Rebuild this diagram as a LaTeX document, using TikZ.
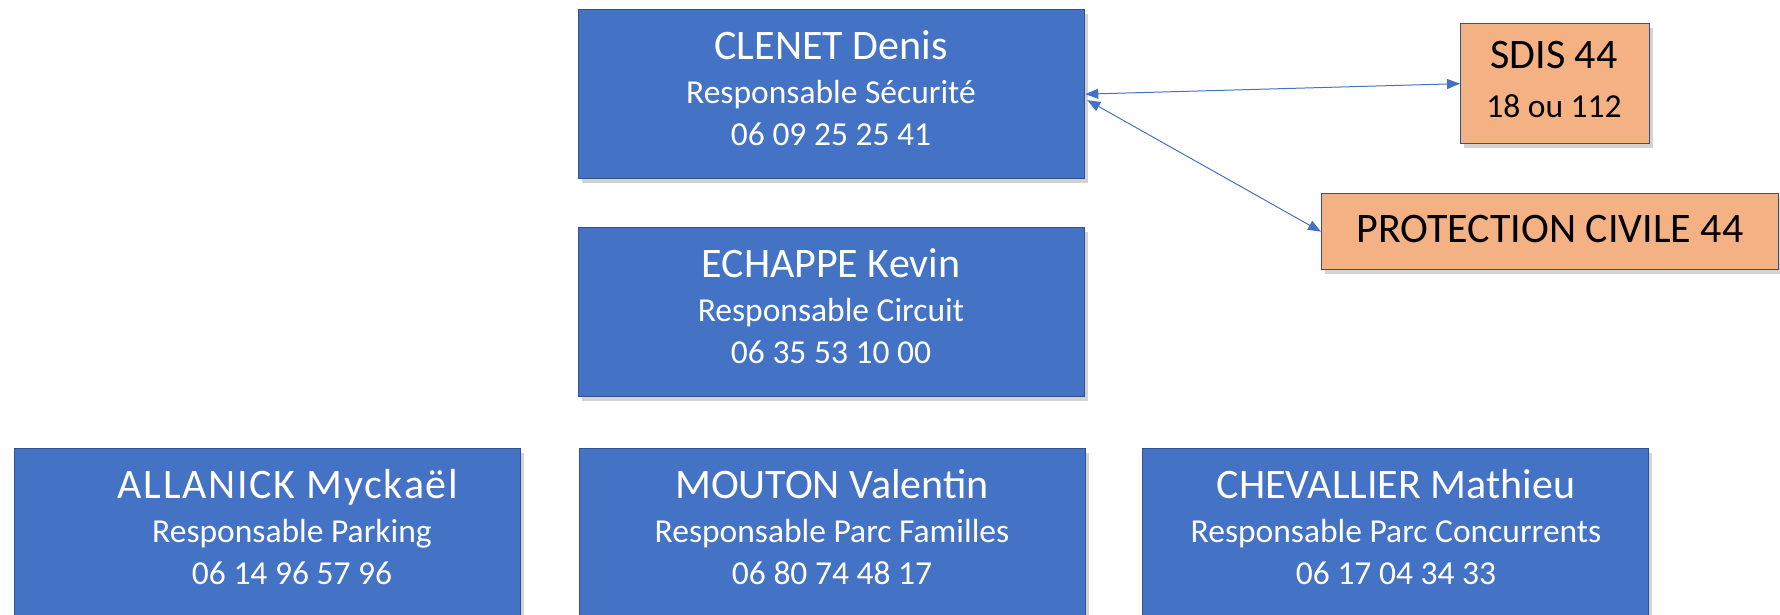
\documentclass[tikz,border=0pt]{standalone}
\usepackage{fontspec}
\setmainfont{Carlito}
\usetikzlibrary{arrows.meta,shadows,calc}
\definecolor{boxblue}{HTML}{4472C4}
\definecolor{edgeblue}{HTML}{2F528F}
\definecolor{boxorange}{HTML}{F4B183}
\tikzset{
  person/.style={draw=edgeblue, line width=1.3pt, fill=boxblue, minimum width=506pt, minimum height=169pt, inner sep=0pt, anchor=north west,
    drop shadow={opacity=0.35, shadow xshift=3pt, shadow yshift=-4pt}},
  extbox/.style={draw=edgeblue, line width=1.3pt, fill=boxorange, inner sep=0pt, anchor=north west,
    drop shadow={opacity=0.35, shadow xshift=3pt, shadow yshift=-4pt}},
  titletxt/.style={text=white, font=\fontsize{42}{48}\selectfont, anchor=base, inner sep=0pt},
  subtxt/.style={text=white, font=\fontsize{33.5}{40}\selectfont, anchor=base, inner sep=0pt},
  exttitle/.style={text=black, font=\fontsize{42}{48}\selectfont, anchor=base, inner sep=0pt},
  extsub/.style={text=black, font=\fontsize{33.5}{40}\selectfont, anchor=base, inner sep=0pt},
  link/.style={draw=boxblue, line width=1pt, {Triangle[length=13pt,width=10pt]}-{Triangle[length=13pt,width=10pt]}}
}
\begin{document}
\begin{tikzpicture}[x=1pt,y=-1pt]
\useasboundingbox (0,0) rectangle (1780,614);
% boxes
\node[person] (clenet) at (578,9) {};
\node[person] (echappe) at (578,227) {};
\node[person] (allanick) at (14,448) {};
\node[person] (mouton) at (579,448) {};
\node[person] (chevallier) at (1142,448) {};
\node[extbox, minimum width=189pt, minimum height=120pt] (sdis) at (1460,23) {};
\node[extbox, minimum width=457pt, minimum height=76pt] (protect) at (1321,193) {};
% texts
\node[titletxt] (t1) at (831,59) {CLENET Denis};
\node[subtxt] (s1) at (831,103) {Responsable Sécurité};
\node[subtxt] (p1) at (831,145) {06 09 25 25 41};
\node[titletxt] (t2) at (831,277) {ECHAPPE Kevin};
\node[subtxt] (s2) at (831,321) {Responsable Circuit};
\node[subtxt] (p2) at (831,363) {06 35 53 10 00};
\node[titletxt] (t3) at (288,498) {\addfontfeatures{LetterSpace=4}ALLANICK Myckaël};
\node[subtxt] (s3) at (292,542) {Responsable Parking};
\node[subtxt] (p3) at (292,584) {06 14 96 57 96};
\node[titletxt] (t4) at (832,498) {MOUTON Valentin};
\node[subtxt] (s4) at (832,542) {Responsable Parc Familles};
\node[subtxt] (p4) at (832,584) {06 80 74 48 17};
\node[titletxt] (t5) at (1396,498) {CHEVALLIER Mathieu};
\node[subtxt] (s5) at (1396,542) {Responsable Parc Concurrents};
\node[subtxt] (p5) at (1396,584) {06 17 04 34 33};
\node[exttitle] (t6) at (1554,68) {SDIS 44};
\node[extsub] (s6) at (1554,117) {18 ou 112};
\node[exttitle] (t7) at (1550,242) {PROTECTION CIVILE 44};
% connectors
\draw[link] (clenet.east) -- (sdis.west);
\draw[link] ($(clenet.east)+(2,6)$) -- (protect.west);
\end{tikzpicture}
\end{document}
